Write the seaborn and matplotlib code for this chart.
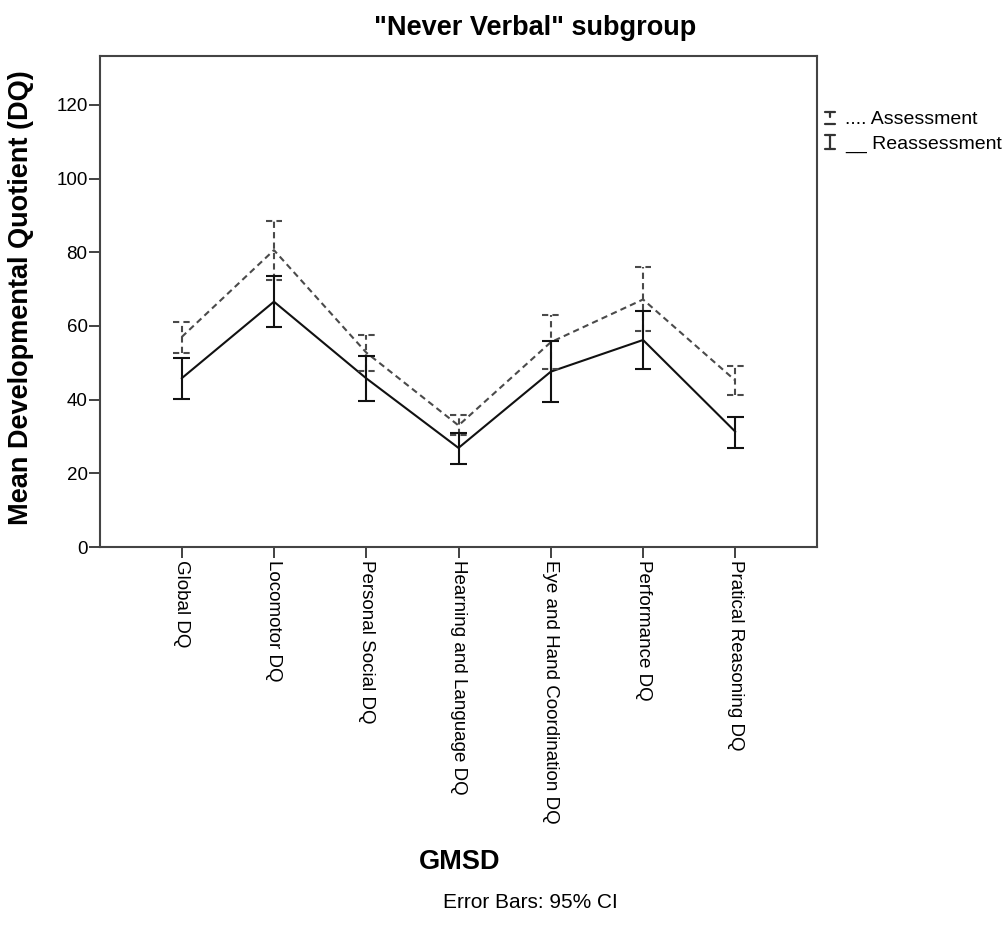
import numpy as np
import pandas as pd
import matplotlib
matplotlib.use("Agg")
import matplotlib.pyplot as plt
import seaborn as sns
from matplotlib.lines import Line2D

categories = ["Global DQ", "Locomotor DQ", "Personal Social DQ", "Hearning and Language DQ",
              "Eye and Hand Coordination DQ", "Performance DQ", "Pratical Reasoning DQ"]
assess_mean = [57.0, 80.6, 52.8, 33.0, 55.6, 67.2, 45.2]
assess_low = [52.6, 72.6, 47.9, 30.4, 48.4, 58.7, 41.3]
assess_high = [61.2, 88.6, 57.6, 35.8, 63.0, 76.1, 49.1]
reass_mean = [45.8, 66.6, 45.8, 26.9, 47.6, 56.2, 31.3]
reass_low = [40.2, 59.8, 39.6, 22.5, 39.3, 48.2, 26.8]
reass_high = [51.3, 73.6, 51.9, 31.0, 55.8, 64.2, 35.2]
yticks = [0, 20, 40, 60, 80, 100, 120]

sns.set_theme(style="white")
plt.rcParams["font.family"] = ["Liberation Sans", "DejaVu Sans"]
plt.rcParams["text.color"] = "black"
plt.rcParams["xtick.color"] = "black"
plt.rcParams["ytick.color"] = "black"

fig = plt.figure(figsize=(10.08, 9.34), dpi=100)
ax = fig.add_axes([100/1008, 1-547/934, (817-100)/1008, (547-56)/934])

idx = np.arange(len(categories))
df = pd.DataFrame({
    "x": np.concatenate([idx, idx]),
    "y": assess_mean + reass_mean,
    "grp": ["Assessment"]*len(idx) + ["Reassessment"]*len(idx),
})

sns.lineplot(data=df, x="x", y="y", hue="grp", style="grp",
             palette={"Assessment": "#4a4a4a", "Reassessment": "#111111"},
             dashes={"Assessment": (3, 2), "Reassessment": ""},
             linewidth=1.5, legend=False, ax=ax, sort=False)

series = [
    (assess_mean, assess_low, assess_high, "#4a4a4a", (0, (3, 2))),
    (reass_mean, reass_low, reass_high, "#111111", "-"),
]
capw = 0.09
for m, lo, hi, col, ls in series:
    lo = np.array(lo); hi = np.array(hi)
    ax.vlines(idx, lo, hi, colors=col, linestyles=ls, linewidth=1.5)
    ax.hlines(lo, idx - capw, idx + capw, colors=col, linestyles=ls, linewidth=1.5)
    ax.hlines(hi, idx - capw, idx + capw, colors=col, linestyles=ls, linewidth=1.5)

ax.set_xlim(-0.885, 6.885)
ax.set_ylim(0, 133.3)
ax.set_xticks(idx)
ax.set_xticklabels(categories, rotation=270, fontsize=13.5, va="top", ha="center")
ax.set_yticks(yticks)
ax.set_yticklabels([str(v) for v in yticks], fontsize=13.5)
ax.tick_params(axis="both", direction="out", length=8, width=1.3,
               bottom=True, left=True, pad=1)
ax.tick_params(colors="#333333", labelcolor="black")
for s in ax.spines.values():
    s.set_color("#444444")
    s.set_linewidth(1.5)
ax.set_xlabel("")
ax.set_ylabel("")

fig.text(535/1008, 1-28/934, "\"Never Verbal\" subgroup", ha="center", va="center",
         fontsize=19.5, fontweight="bold")
fig.text(21/1008, 1-298/934, "Mean Developmental Quotient (DQ)", ha="center", va="center",
         rotation=90, fontsize=19.5, fontweight="bold")
fig.text(460/1008, 1-862/934, "GMSD", ha="center", va="center", fontsize=19.5, fontweight="bold")
fig.text(530/1008, 1-903/934, "Error Bars: 95% CI", ha="center", va="center", fontsize=15)

# legend glyphs
def glyph(xc, ytop, ybot, ls, col, sep=None):
    x0 = xc/1008; dx = 5/1008
    y0 = 1-ytop/934; y1 = 1-ybot/934
    if sep is None:
        fig.add_artist(Line2D([x0, x0], [y0, y1], color=col, lw=1.6))
    else:
        fig.add_artist(Line2D([x0, x0], [y0, 1-sep/934], color=col, lw=1.6))
    fig.add_artist(Line2D([x0-dx, x0+dx], [y0, y0], color=col, lw=1.6))
    fig.add_artist(Line2D([x0-dx, x0+dx], [y1, y1], color=col, lw=1.6))

glyph(830, 112, 124, "-", "#333333", sep=117)
glyph(830, 135, 149, "-", "#333333")
fig.text(845/1008, 1-120/934, ".... Assessment", ha="left", va="center", fontsize=14)
fig.text(845/1008, 1-144/934, "__ Reassessment", ha="left", va="center", fontsize=14)

fig.savefig("out.png", dpi=100)
